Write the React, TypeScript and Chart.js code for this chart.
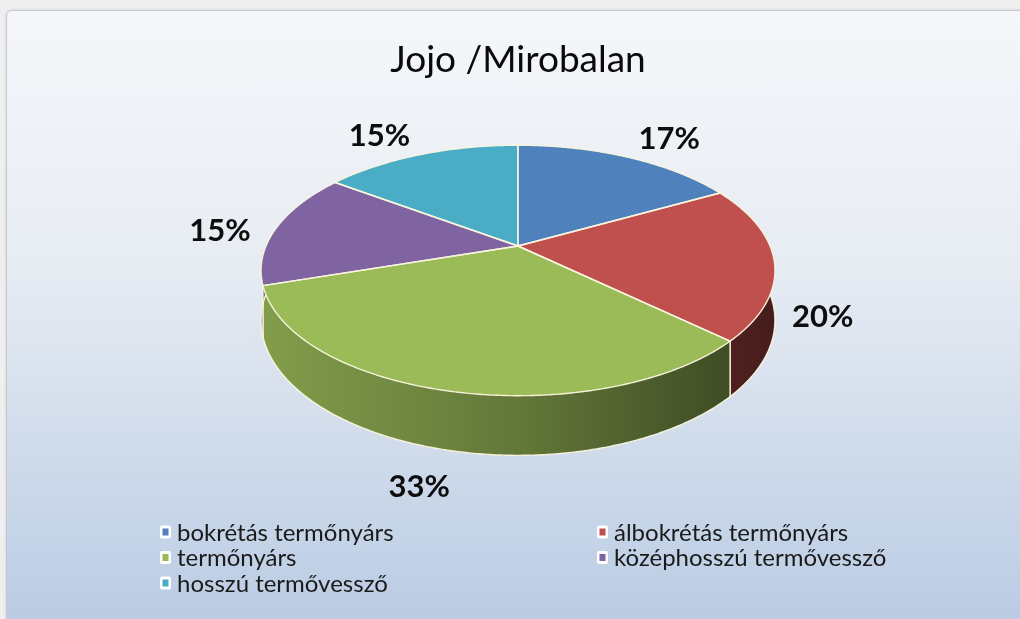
import React, { useEffect, useRef } from 'react';
import { Chart, registerables } from 'chart.js';

Chart.register(...registerables);

const chartTitle = 'Jojo /Mirobalan';
const categories = [
  'bokrétás termőnyárs',
  'álbokrétás termőnyárs',
  'termőnyárs',
  'középhosszú termővessző',
  'hosszú termővessző',
];
const shares = [17, 20, 33, 15, 15];
const percentLabels = ['17%', '20%', '33%', '15%', '15%'];
const sliceColors = ['#4f81bd', '#c0504d', '#9bbb59', '#8064a2', '#4bacc6'];

const FONT = 'Lato, "Open Sans", "Noto Sans", sans-serif';

function rgb(hex: string): number[] {
  const h = hex.replace('#', '');
  return [0, 2, 4].map((i) => parseInt(h.slice(i, i + 2), 16));
}
function shade(hex: string, k: number): string {
  const [r, g, b] = rgb(hex);
  return `rgb(${Math.round(r * k)},${Math.round(g * k)},${Math.round(b * k)})`;
}

const pie3dPlugin = {
  id: 'pie3d',
  beforeDatasetsDraw(chart: any, _args: any, opts: any) {
    const meta = chart.getDatasetMeta(0);
    const arcs = meta.data as any[];
    if (!arcs.length) return false;
    const ctx: CanvasRenderingContext2D = chart.ctx;
    const cx = arcs[0].x;
    const cy = arcs[0].y;
    const R = arcs[0].outerRadius;
    const { tilt, persp, depth, edge } = opts;
    const colors = chart.data.datasets[0].backgroundColor as string[];
    const proj = (a: number, h = 0, r = 1) => {
      const u = Math.cos(a) * r;
      const v = -Math.sin(a) * r;
      const f = persp / (persp + v);
      return { x: cx + R * u * f, y: cy - R * tilt * v * f + h * f, v, f };
    };
    const step = Math.PI / 360;
    ctx.save();
    ctx.lineJoin = 'round';
    ctx.lineCap = 'round';

    // outer walls (front half only)
    arcs.forEach((arc, i) => {
      const s = Math.max(arc.startAngle, 0);
      const e = Math.min(arc.endAngle, Math.PI);
      if (e <= s) return;
      const n = Math.max(2, Math.ceil((e - s) / step));
      const top: any[] = [];
      const bot: any[] = [];
      for (let k = 0; k <= n; k++) {
        const a = s + ((e - s) * k) / n;
        top.push(proj(a));
        bot.push(proj(a, depth));
      }
      ctx.beginPath();
      top.forEach((p, k) => (k ? ctx.lineTo(p.x, p.y) : ctx.moveTo(p.x, p.y)));
      for (let k = bot.length - 1; k >= 0; k--) ctx.lineTo(bot[k].x, bot[k].y);
      ctx.closePath();
      const g = ctx.createLinearGradient(cx - R * 1.02, 0, cx + R * 1.02, 0);
      g.addColorStop(0, shade(colors[i], 0.84));
      g.addColorStop(0.5, shade(colors[i], 0.64));
      g.addColorStop(1, shade(colors[i], 0.36));
      ctx.fillStyle = g;
      ctx.fill();
      ctx.strokeStyle = edge;
      ctx.lineWidth = 1.4;
      ctx.beginPath();
      bot.forEach((p, k) => (k ? ctx.lineTo(p.x, p.y) : ctx.moveTo(p.x, p.y)));
      ctx.stroke();
      if (arc.startAngle > 0) {
        ctx.beginPath();
        ctx.moveTo(top[0].x, top[0].y);
        ctx.lineTo(bot[0].x, bot[0].y);
        ctx.stroke();
      }
      if (arc.endAngle < Math.PI) {
        ctx.beginPath();
        ctx.moveTo(top[n].x, top[n].y);
        ctx.lineTo(bot[n].x, bot[n].y);
        ctx.stroke();
      }
    });

    // top faces
    const facePath = (arc: any) => {
      const s = arc.startAngle;
      const e = arc.endAngle;
      const n = Math.max(2, Math.ceil((e - s) / step));
      ctx.beginPath();
      ctx.moveTo(cx, cy);
      for (let k = 0; k <= n; k++) {
        const p = proj(s + ((e - s) * k) / n);
        ctx.lineTo(p.x, p.y);
      }
      ctx.closePath();
    };
    arcs.forEach((arc, i) => {
      facePath(arc);
      ctx.fillStyle = colors[i];
      ctx.fill();
    });
    arcs.forEach((arc) => {
      facePath(arc);
      ctx.strokeStyle = edge;
      ctx.lineWidth = 1.4;
      ctx.stroke();
    });

    // percentage labels (outside end)
    const labels = opts.labels as string[];
    const nudges = opts.labelNudge as number[][];
    ctx.font = `bold ${opts.labelSize}px ${FONT}`;
    ctx.fillStyle = '#0d0d0d';
    ctx.textAlign = 'center';
    ctx.textBaseline = 'middle';
    arcs.forEach((arc, i) => {
      const mid = (arc.startAngle + arc.endAngle) / 2;
      const p = proj(mid);
      const ax = p.x;
      const ay = p.y + (p.v < 0 ? depth * p.f * -p.v : 0);
      let dx = ax - cx;
      let dy = ay - cy;
      const len = Math.hypot(dx, dy) || 1;
      dx /= len;
      dy /= len;
      const tw = ctx.measureText(labels[i]).width;
      const th = opts.labelSize * 0.95;
      const gap = opts.labelGap;
      const nd = nudges[i] || [0, 0];
      const lx = ax + dx * gap + (dx * tw) / 2 + nd[0];
      const ly = ay + dy * gap + (dy * th) / 2 + nd[1];
      ctx.fillText(labels[i], lx, ly);
    });
    ctx.restore();
    return false;
  },
  afterDraw(chart: any, _args: any, opts: any) {
    const ctx: CanvasRenderingContext2D = chart.ctx;
    const names = chart.data.labels as string[];
    const colors = chart.data.datasets[0].backgroundColor as string[];
    const { left, colWidth, top, rowHeight, size } = opts.legend;
    ctx.save();
    ctx.font = `${size}px ${FONT}`;
    ctx.textBaseline = 'middle';
    ctx.textAlign = 'left';
    names.forEach((name, i) => {
      const col = i % 2;
      const row = Math.floor(i / 2);
      const x = left + col * colWidth;
      const y = top + row * rowHeight;
      ctx.fillStyle = '#ffffff';
      ctx.beginPath();
      (ctx as any).roundRect(x, y - 6.5, 11, 13, 2);
      ctx.fill();
      ctx.fillStyle = colors[i];
      ctx.fillRect(x + 2.5, y - 3.5, 6, 7);
      ctx.fillStyle = '#1a1a1a';
      ctx.fillText(name, x + 17, y + 1);
    });
    ctx.restore();
  },
};

export default function App() {
  const ref = useRef<HTMLCanvasElement | null>(null);
  useEffect(() => {
    if (!ref.current) return;
    const chart = new Chart(ref.current, {
      type: 'pie',
      data: {
        labels: categories,
        datasets: [
          {
            data: shares,
            backgroundColor: sliceColors,
            borderWidth: 0,
            radius: 252,
          } as any,
        ],
      },
      options: {
        responsive: false,
        animation: false,
        events: [],
        layout: { padding: { top: 0, bottom: 217.4, left: 0, right: 0 } },
        plugins: {
          legend: { display: false },
          tooltip: { enabled: false },
          title: {
            display: true,
            text: chartTitle,
            color: '#0a0a0a',
            font: { family: FONT, size: 37, weight: 'normal' },
            padding: { top: 27, bottom: 8 },
          },
          pie3d: {
            tilt: 0.478,
            persp: 5.12,
            depth: 48,
            edge: 'rgba(250,246,222,0.95)',
            labels: percentLabels,
            labelSize: 31,
            labelGap: 16,
            labelNudge: [[5, 1], [2, 47], [-16, 9], [-10, 6], [-7, 2]],
            legend: { left: 153, colWidth: 437, top: 521, rowHeight: 25.5, size: 24 },
          },
        } as any,
      },
      plugins: [pie3dPlugin as any],
    });
    return () => chart.destroy();
  }, []);

  return (
    <div style={{ position: 'fixed', inset: 0, overflow: 'hidden', background: '#efefef' }}>
      <div
        style={{
          position: 'absolute',
          left: 6,
          top: 10,
          width: 1040,
          height: 640,
          border: '1px solid #c3c8cf',
          borderRadius: 6,
          boxShadow: '0 0 3px rgba(0,0,0,0.12)',
          background: 'linear-gradient(180deg, #f5f7fa 0%, #e7ecf3 40%, #b6c9e2 100%)',
        }}
      />
      <canvas
        ref={ref}
        width={1022}
        height={608}
        style={{ position: 'absolute', left: 7, top: 11, display: 'block' }}
      />
    </div>
  );
}
